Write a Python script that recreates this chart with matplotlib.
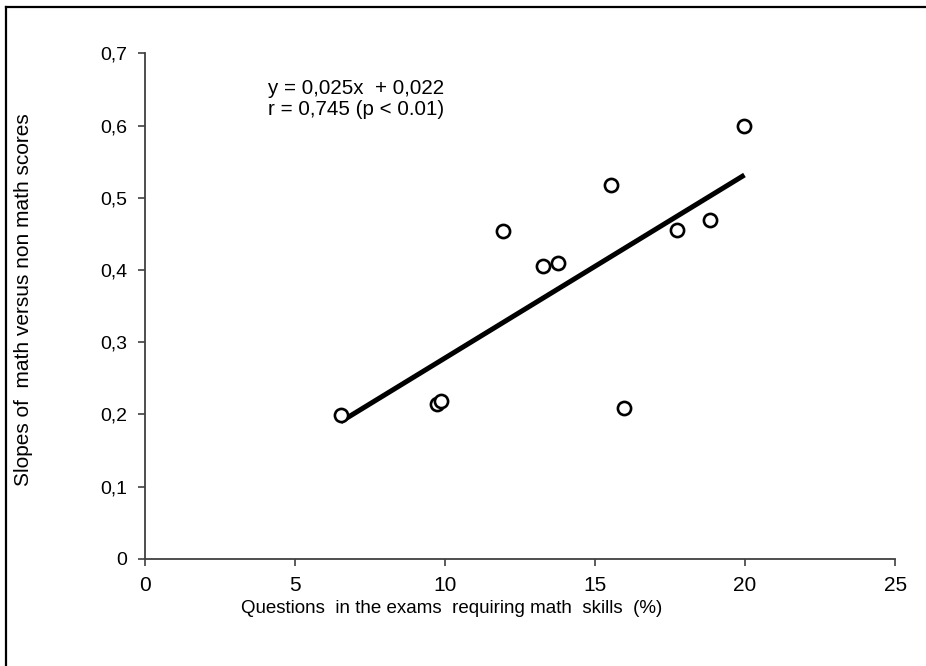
import numpy as np
import matplotlib
matplotlib.use("Agg")
import matplotlib.pyplot as plt
from matplotlib.lines import Line2D

plt.rcParams["font.family"] = ["Liberation Sans", "DejaVu Sans"]

# values
math_share = [6.52, 9.74, 9.86, 11.94, 13.26, 13.78, 15.53, 15.97, 17.72, 18.83, 19.98]
slopes = [0.199, 0.215, 0.219, 0.454, 0.406, 0.410, 0.518, 0.209, 0.456, 0.469, 0.600]

x_ticks = [0, 5, 10, 15, 20, 25]
y_ticks = [0, 0.1, 0.2, 0.3, 0.4, 0.5, 0.6, 0.7]
y_tick_labels = ["0", "0,1", "0,2", "0,3", "0,4", "0,5", "0,6", "0,7"]

fit_text = "y = 0,025x  + 0,022\nr = 0,745 (p < 0.01)"

fig = plt.figure(figsize=(9.26, 6.66), dpi=100)
ax = fig.add_axes([0.1566, 0.1607, 0.81, 0.7593])

x = np.array(math_share)
y = np.array(slopes)
slope, intercept = np.polyfit(x, y, 1)
xs = np.array([x.min(), x.max()])
ax.plot(xs, slope * xs + intercept, color="black", linewidth=3.6, solid_capstyle="butt", zorder=2)

ax.scatter(x, y, s=90, facecolors="white", edgecolors="black", linewidths=1.9, zorder=3)

ax.text(7.05, 0.637, fit_text, ha="center", va="center", fontsize=14.8, linespacing=1.1)

ax.set_xlim(0, 25)
ax.set_ylim(0, 0.7)
ax.set_xticks(x_ticks)
ax.set_yticks(y_ticks)
ax.set_yticklabels(y_tick_labels)
ax.tick_params(axis="both", length=5, width=1.2, color="#404040", direction="out")
ax.tick_params(axis="y", labelsize=14, pad=8)
ax.tick_params(axis="x", labelsize=15, pad=7)

for side in ["top", "right"]:
    ax.spines[side].set_visible(False)
for side in ["left", "bottom"]:
    ax.spines[side].set_color("#404040")
    ax.spines[side].set_linewidth(1.3)

ax.set_xlabel("Questions  in the exams  requiring math  skills  (%)", fontsize=13.5)
ax.xaxis.set_label_coords((452 - 145) / 750, -(600 - 559) / 505.7)
ax.set_ylabel("Slopes of  math versus non math scores", fontsize=15)
ax.yaxis.set_label_coords(-(145 - 33) / 750, (559 - 300) / 505.7)

# border lines of the pasted figure (top and left only)
fig.add_artist(Line2D([0.0065, 1.0], [0.9895, 0.9895], transform=fig.transFigure, color="black", linewidth=1.6))
fig.add_artist(Line2D([0.0065, 0.0065], [0.0, 0.9895], transform=fig.transFigure, color="black", linewidth=1.6))

fig.savefig("out.png", dpi=100)
